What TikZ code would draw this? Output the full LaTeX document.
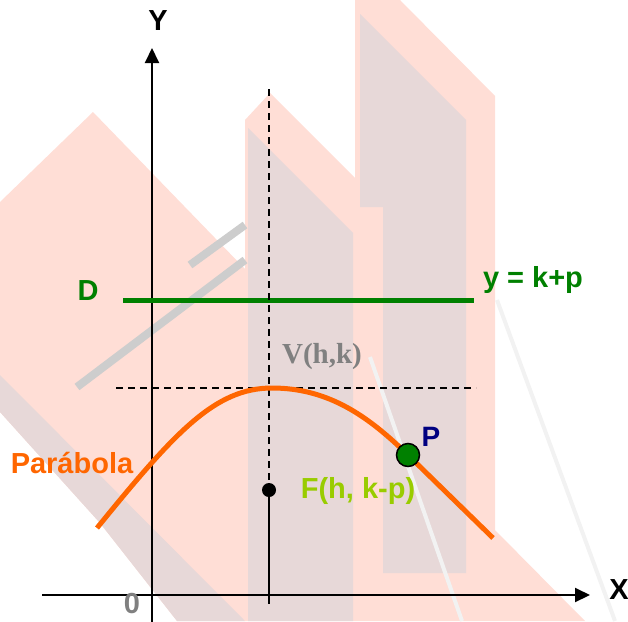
\documentclass[tikz,border=0pt]{standalone}
\usepackage{fontspec}
\setmainfont{Liberation Sans}
\newfontfamily\vfont{Liberation Serif}
\usepackage{tikz}
\usetikzlibrary{positioning, arrows.meta}
\definecolor{bgpink}{RGB}{255,222,214}
\definecolor{bggray}{RGB}{231,216,216}
\definecolor{stairgray}{RGB}{205,205,205}
\definecolor{streak}{RGB}{242,242,242}
\definecolor{dirgreen}{RGB}{0,128,0}
\definecolor{parorange}{RGB}{255,102,0}
\definecolor{focusgreen}{RGB}{153,204,0}
\definecolor{pnavy}{RGB}{0,0,128}

\begin{document}
\begin{tikzpicture}[
  x=1pt, y=-1pt,
  font=\fontsize{29}{30}\selectfont\bfseries,
  axis/.style={line width=2pt, -{Triangle[length=15pt,width=14pt]}},
  guide/.style={line width=1.8pt, dash pattern=on 7pt off 5pt},
  lbl/.style={inner sep=0pt, anchor=center},
  dot/.style={circle, inner sep=0pt, fill=black},
  ptdot/.style={circle, draw=black, line width=1.5pt, fill=dirgreen, minimum size=23pt, inner sep=0pt}
]
\useasboundingbox (0,0) rectangle (628,621);

% background art
\fill[bgpink] (0,202) -- (93,112) -- (245,269) -- (245,120) -- (270,93) -- (355,178)
  -- (355,0) -- (400,0) -- (495,96) -- (495,530) -- (585,621) -- (177,621) -- (100,523) -- (0,412) -- cycle;
\fill[bggray] (248,128) -- (353,233) -- (353,621) -- (248,621) -- cycle;
\fill[bggray] (360,14) -- (466,120) -- (466,573) -- (383,573) -- (383,207) -- (360,207) -- cycle;
\fill[bggray] (0,375) -- (245,621) -- (177,621) -- (100,523) -- (0,412) -- cycle;
\draw[stairgray, line width=8pt] (77,387) -- (245,260);
\draw[stairgray, line width=8pt] (190,265) -- (245,225);
\draw[streak, line width=4pt] (370,357) -- (462,621);
\draw[streak, line width=4pt] (497,300) -- (615,621);

% axes
\coordinate (xstart) at (42,595);
\coordinate (xend) at (590,595);
\coordinate (ystart) at (152,622);
\coordinate (yend) at (152,48);
\draw[axis] (xstart) -- (xend);
\draw[axis] (ystart) -- (yend);
\node[lbl] (xlab) at (619,590) {X};
\node[lbl] (ylab) at (158,21) {Y};
\node[lbl, gray] (orig) at (132,604) {0};

% directrix
\coordinate (d1) at (123,300);
\coordinate (d2) at (474,300);
\draw[dirgreen, line width=5pt] (d1) -- (d2);
\node[lbl, dirgreen] (dlab) at (88,291) {D};
\node[lbl, dirgreen] (dirlab) at (533,280) {y = k+p};

% axis of symmetry and tangent at vertex
\coordinate (V) at (272,388);
\coordinate (hl) at (116,388);
\coordinate (hr) at (476,388);
\coordinate (vtop) at (269,89);
\coordinate (vbot) at (269,604);
\node[dot, minimum size=14pt] (F) at (269,490) {};
\draw[guide] (hl) -- (hr);
\draw[guide] (vtop) -- (F);
\draw[line width=2pt] (F) -- (vbot);

% parabola
\coordinate (pl) at (97,528);
\coordinate (pr) at (493,538);
\coordinate (pc) at (408,455);
\draw[parorange, line width=5pt] (pl) .. controls (175,432) and (215,388) .. (V)
  .. controls (330,388) and (370,418) .. (pc) -- (pr);
\node[ptdot] (P) at (pc) {};

% labels
\node[lbl, pnavy, font=\fontsize{28}{30}\selectfont\bfseries] (plab) at (431,437) {P};
\node[lbl, focusgreen] (flab) at (358,491) {F(h, k-p)};
\node[lbl, gray, font=\vfont\fontsize{29}{30}\selectfont\bfseries] (vlab) at (322,357) {V(h,k)};
\node[lbl, parorange] (parlab) at (72,463) {Parábola};
\end{tikzpicture}
\end{document}
